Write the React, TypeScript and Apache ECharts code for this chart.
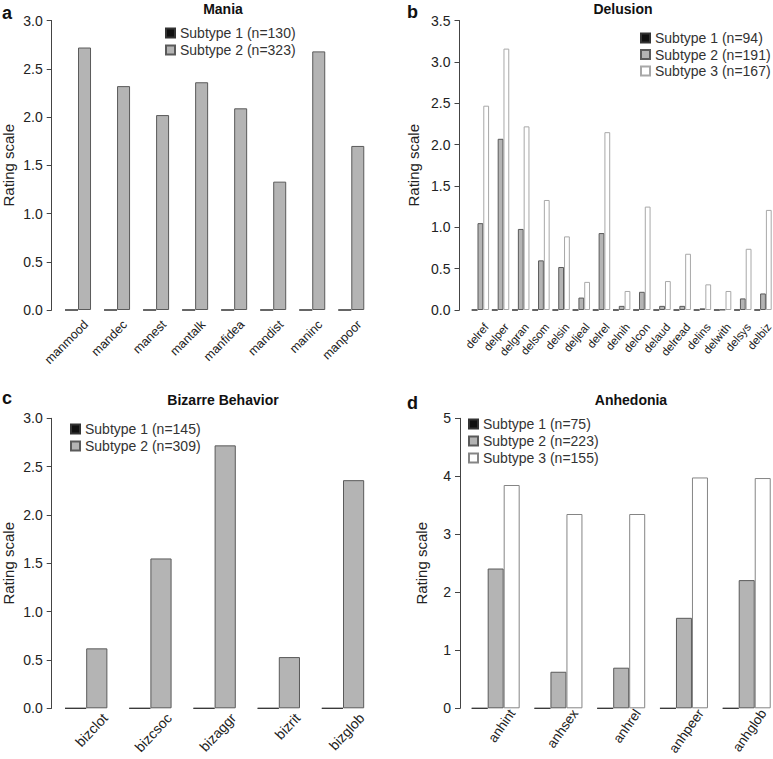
import React, { useEffect, useRef } from "react";
import * as echarts from "echarts";

const FONT = '"Liberation Sans", Arial, Helvetica, sans-serif';

const maniaCats = ["manmood", "mandec", "manest", "mantalk", "manfidea", "mandist", "maninc", "manpoor"];
const maniaNames = ["Subtype 1 (n=130)", "Subtype 2 (n=323)"];
const maniaS1 = [0, 0, 0, 0, 0, 0, 0, 0];
const maniaS2 = [2.72, 2.32, 2.02, 2.36, 2.09, 1.33, 2.68, 1.7];

const delCats = ["delref", "delper", "delgran", "delsom", "delsin", "deljeal", "delrel", "delnih", "delcon", "delaud", "delread", "delins", "delwith", "delsys", "delbiz"];
const delNames = ["Subtype 1 (n=94)", "Subtype 2 (n=191)", "Subtype 3 (n=167)"];
const delS1 = [0, 0, 0, 0, 0, 0, 0, 0, 0, 0, 0, 0, 0, 0, 0];
const delS2 = [1.05, 2.07, 0.98, 0.6, 0.52, 0.15, 0.93, 0.05, 0.22, 0.05, 0.05, 0.02, 0.005, 0.14, 0.2];
const delS3 = [2.47, 3.16, 2.22, 1.33, 0.89, 0.34, 2.15, 0.23, 1.25, 0.35, 0.68, 0.31, 0.23, 0.74, 1.21];

const bizCats = ["bizclot", "bizcsoc", "bizaggr", "bizrit", "bizglob"];
const bizNames = ["Subtype 1 (n=145)", "Subtype 2 (n=309)"];
const bizS1 = [0, 0, 0, 0, 0];
const bizS2 = [0.62, 1.55, 2.72, 0.53, 2.36];

const anhCats = ["anhint", "anhsex", "anhrel", "anhpeer", "anhglob"];
const anhNames = ["Subtype 1 (n=75)", "Subtype 2 (n=223)", "Subtype 3 (n=155)"];
const anhS1 = [0, 0, 0, 0, 0];
const anhS2 = [2.41, 0.63, 0.7, 1.56, 2.21];
const anhS3 = [3.85, 3.35, 3.35, 3.98, 3.97];

const STYLES = [
  { color: "#111111", borderColor: "#333333" },
  { color: "#b4b4b4", borderColor: "#5a5a5a" },
  { color: "#ffffff", borderColor: "#9a9a9a" },
];

function yAxis(gridIndex: number, max: number, interval: number, offset: number, decimals: number, nameGap: number) {
  return {
    type: "value",
    gridIndex,
    min: 0,
    max,
    interval,
    offset,
    position: "left",
    axisLine: { show: true, lineStyle: { color: "#444", width: 1 } },
    axisTick: { show: true, length: 5, lineStyle: { color: "#444", width: 1 } },
    axisLabel: {
      margin: 9,
      fontSize: 14,
      color: "#222",
      fontFamily: FONT,
      formatter: (v: number) => v.toFixed(decimals),
    },
    splitLine: { show: false },
    name: "Rating scale",
    nameLocation: "middle",
    nameRotate: 90,
    nameGap,
    nameTextStyle: { fontSize: 15, color: "#222", fontFamily: FONT },
  };
}

function xAxis(gridIndex: number, cats: string[], fontSize: number, rotate: number, margin: number, shift: number) {
  return {
    type: "category",
    gridIndex,
    data: cats,
    axisLine: { show: false },
    axisTick: { show: false },
    axisLabel: {
      interval: 0,
      rotate,
      fontSize,
      color: "#222",
      fontFamily: FONT,
      margin,
      align: "right",
      verticalAlign: "top",
      padding: [0, -shift, 0, 0],
      hideOverlap: false,
    },
  };
}

function barSeries(idx: number, names: string[], datas: number[][], gap: string, whiteBorder?: string) {
  return datas.map((d, i) => ({
    type: "bar",
    name: names[i],
    xAxisIndex: idx,
    yAxisIndex: idx,
    data: d,
    barGap: "0%",
    barCategoryGap: gap,
    silent: true,
    itemStyle: {
      color: STYLES[i].color,
      borderColor: i === 2 && whiteBorder ? whiteBorder : STYLES[i].borderColor,
      borderWidth: 1,
    },
  }));
}

function legend(names: string[], left: number, top: number, gap: number) {
  return {
    orient: "vertical",
    left,
    top,
    padding: 0,
    itemWidth: 9,
    itemHeight: 9,
    itemGap: gap,
    icon: "rect",
    selectedMode: false,
    data: names,
    textStyle: { fontSize: 14, color: "#333", fontFamily: FONT, lineHeight: 14 },
  };
}

function txt(text: string, x: number, y: number, size: number, align: string) {
  return {
    type: "text",
    x,
    y,
    silent: true,
    style: {
      text,
      fill: "#111",
      font: `bold ${size}px ${FONT}`,
      textAlign: align,
      textVerticalAlign: "middle",
    },
  };
}

export default function App() {
  const ref = useRef<HTMLDivElement>(null);
  useEffect(() => {
    if (!ref.current) return;
    const chart = echarts.init(ref.current, undefined, { renderer: "svg" });
    const g = { outerBoundsMode: "none", containLabel: false };
    chart.setOption({
      animation: false,
      backgroundColor: "#ffffff",
      grid: [
        { ...g, left: 58.5, top: 20.5, width: 312.3, height: 289.5 },
        { ...g, left: 470.3, top: 20.5, width: 302.8, height: 289.5 },
        { ...g, left: 54.1, top: 418.3, width: 321, height: 290 },
        { ...g, left: 464.3, top: 418.3, width: 313.8, height: 290 },
      ],
      xAxis: [
        xAxis(0, maniaCats, 12.5, 45, 11.5, 5),
        xAxis(1, delCats, 11.5, 50, 12.5, 2),
        xAxis(2, bizCats, 14, 47, 17, 20),
        xAxis(3, anhCats, 13.5, 55, 14, 19),
      ],
      yAxis: [
        yAxis(0, 3, 0.5, 6.8, 1, 36),
        yAxis(1, 3.5, 0.5, 10.8, 1, 38.5),
        yAxis(2, 3, 0.5, 2.4, 1, 36),
        yAxis(3, 5, 1, 4.3, 0, 31),
      ],
      legend: [
        legend(maniaNames, 165, 26, 3),
        legend(delNames, 640, 31, 2.5),
        legend(bizNames, 70, 422, 3),
        legend(anhNames, 468, 417, 3),
      ],
      series: [
        ...barSeries(0, maniaNames, [maniaS1, maniaS2], "33.4%"),
        ...barSeries(1, delNames, [delS1, delS2, delS3], "13.9%", "#a8a8a8"),
        ...barSeries(2, bizNames, [bizS1, bizS2], "34%"),
        ...barSeries(3, anhNames, [anhS1, anhS2, anhS3], "23.5%", "#858585"),
      ],
      graphic: [
        txt("a", 2, 13, 18, "left"),
        txt("b", 407, 12, 18, "left"),
        txt("c", 2, 398, 18, "left"),
        txt("d", 407, 403, 18, "left"),
        txt("Mania", 223, 8.5, 14, "center"),
        txt("Delusion", 623, 8.5, 14, "center"),
        txt("Bizarre Behavior", 223, 400, 14, "center"),
        txt("Anhedonia", 631, 400, 14, "center"),
      ],
    });
    return () => chart.dispose();
  }, []);
  return (
    <div
      ref={ref}
      style={{ position: "absolute", left: 0, top: 0, width: 773, height: 759, background: "#fff" }}
    />
  );
}
